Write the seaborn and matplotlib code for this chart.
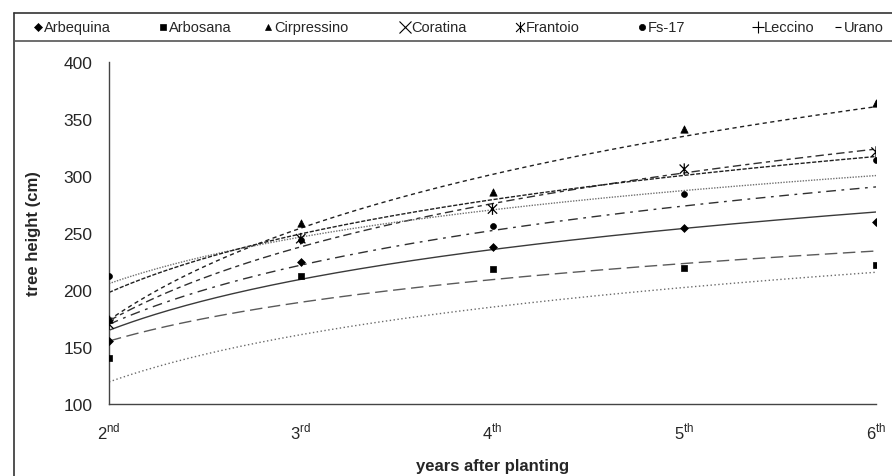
import numpy as np
import pandas as pd
import matplotlib
matplotlib.use("Agg")
import matplotlib.pyplot as plt
from matplotlib.lines import Line2D
from matplotlib.path import Path
import seaborn as sns

# ---- data ----
years = [2, 3, 4, 5, 6]
year_labels = ["2$^{\\mathregular{nd}}$", "3$^{\\mathregular{rd}}$", "4$^{\\mathregular{th}}$",
               "5$^{\\mathregular{th}}$", "6$^{\\mathregular{th}}$"]
cultivars = ["Arbequina", "Arbosana", "Cirpressino", "Coratina", "Frantoio", "Fs-17", "Leccino", "Urano"]
arbequina = [155, 225, 238, 254, 260]
arbosana = [140, 212, 218, 219, 222]
cirpressino = [175, 259, 286, 341, 364]
coratina = [164, 234, 250, 271, 289]
frantoio = [170, 245, 271, 306, 321]
fs17 = [212, 244, 256, 284, 314]
leccino = [203, 250, 261, 302, 328]
urano = [122, 157, 185, 199, 220]
yticks = [100, 150, 200, 250, 300, 350, 400]

values = [arbequina, arbosana, cirpressino, coratina, frantoio, fs17, leccino, urano]

sns.set_theme(style="white")
plt.rcParams['font.family'] = ['Liberation Sans', 'DejaVu Sans']
plt.rcParams['mathtext.fontset'] = 'custom'
plt.rcParams['mathtext.rm'] = 'Liberation Sans'

ast = Path([(-1, -1), (1, 1), (-1, 1), (1, -1), (0, -1.25), (0, 1.25)],
           [Path.MOVETO, Path.LINETO, Path.MOVETO, Path.LINETO, Path.MOVETO, Path.LINETO])

styles = {
    "Arbequina":   dict(marker="D", s=16, filled=True,  ls="-",                 lc="#3a3a3a", lms=4.5),
    "Arbosana":    dict(marker="s", s=24, filled=True,  ls=(0, (9, 4)),         lc="#5a5a5a", lms=4.5),
    "Cirpressino": dict(marker="^", s=28, filled=True,  ls=(0, (3, 2.5)),       lc="#202020", lms=4.5),
    "Coratina":    dict(marker="x", s=70, filled=False, ls=(0, (7, 4, 2, 4)),   lc="#303030", lms=8),
    "Frantoio":    dict(marker=ast, s=70, filled=False, ls=(0, (6, 3, 3, 3)),   lc="#303030", lms=8),
    "Fs-17":       dict(marker="o", s=18, filled=True,  ls=(0, (1, 1)),         lc="#707070", lms=4.5),
    "Leccino":     dict(marker="+", s=90, filled=False, ls=(0, (3, 1.2)),       lc="#202020", lms=9),
    "Urano":       dict(marker="_", s=40, filled=False, ls=(0, (1, 1.8)),       lc="#6a6a6a", lms=5),
}

W, H = 892, 477
fig = plt.figure(figsize=(W / 100, H / 100), dpi=100)
ax = fig.add_axes([109 / W, 1 - 405 / H, (876 - 109) / W, (405 - 63) / H])

xs = np.linspace(2, 6, 200)
for name, vals in zip(cultivars, values):
    st = styles[name]
    # logarithmic trend line fitted to the data (year index 1..5)
    a, b = np.polyfit(np.log(np.array(years) - 1), vals, 1)
    trend = pd.DataFrame({"x": xs, "y": a * np.log(xs - 1) + b})
    sns.lineplot(data=trend, x="x", y="y", ax=ax, color=st["lc"], linestyle=st["ls"], linewidth=1.0)
    df = pd.DataFrame({"x": years, "y": vals})
    if st["filled"]:
        sns.scatterplot(data=df, x="x", y="y", ax=ax, marker=st["marker"], s=st["s"],
                        color="black", edgecolor="black", linewidth=0.5, zorder=5)
    else:
        sns.scatterplot(data=df, x="x", y="y", ax=ax, marker=st["marker"], s=st["s"],
                        facecolor="none", edgecolor="black", color="black", linewidth=0.9, zorder=5)

ax.set_xlim(2, 6)
ax.set_ylim(100, 400)
ax.set_xticks(years)
ax.set_xticklabels(year_labels, fontsize=12)
ax.set_yticks(yticks)
ax.set_yticklabels([str(t) for t in yticks], fontsize=12.5)
ax.tick_params(axis="both", direction="out", length=5, width=1, color="#444444")
ax.tick_params(axis="y", pad=7)
ax.tick_params(axis="x", pad=7)
for side in ["top", "right"]:
    ax.spines[side].set_visible(False)
for side in ["left", "bottom"]:
    ax.spines[side].set_color("#444444")
    ax.spines[side].set_linewidth(1.0)
ax.set_xlabel("years after planting", fontsize=12, fontweight="bold", labelpad=12)
ax.set_ylabel("tree height (cm)", fontsize=12, fontweight="bold", labelpad=16)

# outer frame and legend box
fig.add_artist(Line2D([14 / W, 14 / W], [0, 1 - 14 / H], transform=fig.transFigure, color="#333333", lw=1.2))
fig.add_artist(Line2D([14 / W, 1], [1 - 14 / H, 1 - 14 / H], transform=fig.transFigure, color="#333333", lw=1.2))
fig.add_artist(Line2D([14 / W, 1], [1 - 42 / H, 1 - 42 / H], transform=fig.transFigure, color="#555555", lw=1.2))

# legend entries (marker + label), laid out as in the reference
marker_px = [38, 163, 268, 405, 520, 642, 758, 838]
ly = 1 - 28 / H
for name, mx in zip(cultivars, marker_px):
    st = styles[name]
    fig.add_artist(Line2D([mx / W], [ly], transform=fig.transFigure, linestyle="none",
                          marker=st["marker"], color="black", markersize=st["lms"],
                          markeredgewidth=0.5 if st["filled"] else 0.8))
    fig.text((mx + 6) / W, ly, name, fontsize=10.5, ha="left", va="center")

fig.savefig("out.png", dpi=100, facecolor="white")
